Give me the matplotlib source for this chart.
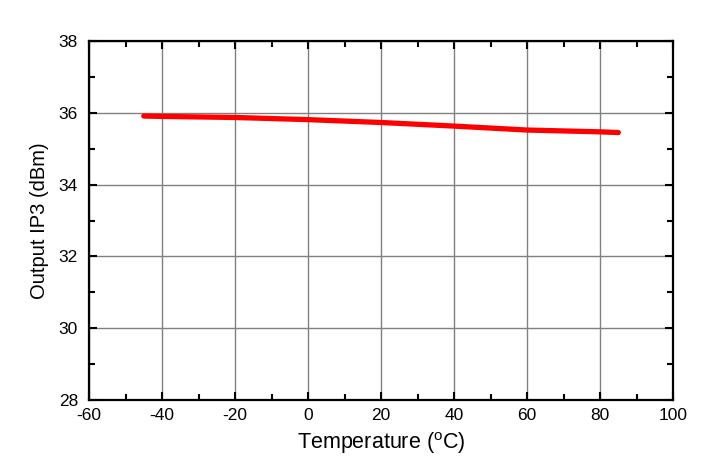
import matplotlib
matplotlib.use("Agg")
import matplotlib.pyplot as plt
from matplotlib.ticker import MultipleLocator

plt.rcParams['font.family'] = ['Liberation Sans', 'DejaVu Sans']
plt.rcParams['mathtext.fontset'] = 'custom'
plt.rcParams['mathtext.rm'] = 'Liberation Sans'
plt.rcParams['axes.unicode_minus'] = False

temperature = [-45, -40, -20, 0, 20, 40, 60, 80, 85]
oip3 = [35.91, 35.90, 35.87, 35.81, 35.73, 35.63, 35.52, 35.47, 35.45]

fig = plt.figure(figsize=(7.1, 4.65), dpi=100)
ax = fig.add_axes([0.1254, 0.1398, 0.8226, 0.772])

ax.plot(temperature, oip3, color='#ff0000', linewidth=3.8, solid_capstyle='round', zorder=3)

ax.set_xlim(-60, 100)
ax.set_ylim(28, 38)
ax.xaxis.set_major_locator(MultipleLocator(20))
ax.xaxis.set_minor_locator(MultipleLocator(10))
ax.yaxis.set_major_locator(MultipleLocator(2))
ax.yaxis.set_minor_locator(MultipleLocator(1))
ax.grid(True, which='major', color='#808080', linewidth=1.0)
ax.tick_params(which='both', direction='in', top=True, right=True, width=1.5, labelsize=12.5)
ax.tick_params(which='major', length=6)
ax.tick_params(which='minor', length=4)
ax.tick_params(axis='x', pad=6)
ax.tick_params(axis='y', pad=8)
for s in ax.spines.values():
    s.set_linewidth(1.6)

ax.set_xlabel('Temperature ($^{\\mathrm{o}}$C)', fontsize=15.5)
ax.set_ylabel('Output IP3 (dBm)', fontsize=14.5)
ax.xaxis.set_label_coords(0.5, -0.085)
ax.yaxis.set_label_coords(-0.068, 0.5)

fig.savefig('out.png', dpi=100)
